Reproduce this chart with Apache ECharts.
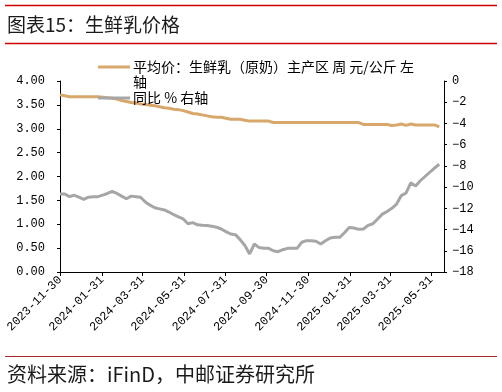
<!DOCTYPE html>
<html>
<head>
<meta charset="utf-8">
<script src="https://cdn.jsdelivr.net/npm/echarts@6/dist/echarts.min.js"></script>
<style>html,body{margin:0;padding:0;background:#fff;}#c{width:502px;height:392px;}</style>
</head>
<body>
<div id="c"></div>
<script>
var dates = [
'2023-11-30','2023-12-07','2023-12-14','2023-12-21','2023-12-28',
'2024-01-04','2024-01-11','2024-01-18','2024-01-25',
'2024-02-01','2024-02-08','2024-02-15','2024-02-22','2024-02-29',
'2024-03-07','2024-03-14','2024-03-21','2024-03-28',
'2024-04-04','2024-04-11','2024-04-18','2024-04-25',
'2024-05-02','2024-05-09','2024-05-16','2024-05-23','2024-05-30',
'2024-06-06','2024-06-13','2024-06-20','2024-06-27',
'2024-07-04','2024-07-11','2024-07-18','2024-07-25',
'2024-08-01','2024-08-08','2024-08-15','2024-08-22','2024-08-29',
'2024-09-05','2024-09-12','2024-09-19','2024-09-26',
'2024-10-03','2024-10-10','2024-10-17','2024-10-24','2024-10-31',
'2024-11-07','2024-11-14','2024-11-21','2024-11-28',
'2024-12-05','2024-12-12','2024-12-19','2024-12-26',
'2025-01-02','2025-01-09','2025-01-16','2025-01-23','2025-01-30',
'2025-02-06','2025-02-13','2025-02-20','2025-02-27',
'2025-03-06','2025-03-13','2025-03-20','2025-03-27',
'2025-04-03','2025-04-10','2025-04-17','2025-04-24',
'2025-05-01','2025-05-08','2025-05-15','2025-05-22','2025-05-29',
'2025-06-05','2025-06-12'
];
var price = [
3.71,3.69,3.67,3.67,3.67,3.67,3.67,3.67,3.67,3.66,
3.65,3.64,3.62,3.59,3.57,3.55,3.54,3.52,3.51,3.49,
3.48,3.46,3.44,3.43,3.41,3.40,3.38,3.35,3.32,3.31,
3.29,3.27,3.25,3.24,3.24,3.22,3.20,3.20,3.20,3.18,
3.16,3.16,3.16,3.16,3.16,3.13,3.13,3.13,3.13,3.13,
3.13,3.13,3.13,3.13,3.13,3.13,3.13,3.13,3.13,3.13,
3.13,3.13,3.13,3.13,3.09,3.09,3.09,3.09,3.09,3.09,
3.07,3.08,3.10,3.07,3.10,3.08,3.08,3.08,3.08,3.08,
3.04
];
var yoy = [
-10.65,-10.65,-10.9,-10.77,-10.95,-11.15,-10.95,-10.9,-10.9,-10.75,
-10.6,-10.4,-10.6,-10.85,-11.1,-10.85,-10.9,-10.95,-11.4,-11.7,
-11.95,-12.05,-12.15,-12.35,-12.6,-12.8,-13.0,-13.45,-13.35,-13.55,
-13.6,-13.62,-13.68,-13.78,-13.95,-14.2,-14.42,-14.48,-14.95,-15.5,
-16.3,-15.36,-15.7,-15.77,-15.77,-16.0,-16.09,-15.9,-15.77,-15.77,
-15.77,-15.2,-15.05,-15.05,-15.1,-15.36,-15.05,-14.8,-14.73,-14.73,
-14.3,-13.8,-13.85,-13.98,-13.95,-13.6,-13.45,-13.0,-12.55,-12.3,
-12.0,-11.6,-10.8,-10.55,-9.6,-9.9,-9.4,-9.0,-8.6,-8.2,
-7.85
];
var tickDates = ['2023-11-30','2024-01-31','2024-03-31','2024-05-31','2024-07-31','2024-09-30','2024-11-30','2025-01-31','2025-03-31','2025-05-31'];
var axisStart = '2023-11-30';
var axisEnd = '2025-06-19';
var name1 = '平均价：生鲜乳（原奶）主产区 周 元/公斤 左轴';
var name2 = '同比 % 右轴';

function ts(s){var p=s.split('-');return Date.UTC(+p[0],+p[1]-1,+p[2]);}
function pad(n){return (n<10?'0':'')+n;}
function fmt(v){var d=new Date(v);return d.getUTCFullYear()+'-'+pad(d.getUTCMonth()+1)+'-'+pad(d.getUTCDate());}

var cjk = '"Noto Sans CJK SC", sans-serif';
var mono = '"Liberation Mono", "DejaVu Sans Mono", monospace';
var tickTs = tickDates.map(ts);
var chart = echarts.init(document.getElementById('c'), null, {renderer:'canvas'});
chart.setOption({
  animation:false,
  backgroundColor:'#fff',
  graphic:[
    {type:'line', shape:{x1:5,y1:5.5,x2:497,y2:5.5}, style:{stroke:'#d00000',lineWidth:1.5}},
    {type:'text', left:7, top:15, style:{text:'图表15：生鲜乳价格', font:'19px '+cjk, fill:'#1a1a1a'}},
    {type:'line', shape:{x1:5,y1:43.5,x2:497,y2:43.5}, style:{stroke:'#d00000',lineWidth:1.5}},
    {type:'line', shape:{x1:5,y1:356.5,x2:497,y2:356.5}, style:{stroke:'#a52a2a',lineWidth:1.2}},
    {type:'text', left:7, top:364, style:{text:'资料来源：iFinD，中邮证券研究所', font:'20px '+cjk, fill:'#1a1a1a'}},
    {type:'text', left:133, top:75, z:10, style:{text:'轴', font:'14px '+cjk, fill:'#000'}}
  ],
  legend:[
    {data:[name1], left:98, top:60, padding:0, icon:'rect', itemWidth:32, itemHeight:3, itemGap:0,
     formatter:function(n){return n.slice(0,-1);},
     textStyle:{fontSize:14, fontFamily:cjk, color:'#000', padding:[0,0,0,-2]}},
    {data:[name2], left:98, top:91, padding:0, icon:'rect', itemWidth:32, itemHeight:3,
     textStyle:{fontSize:14, fontFamily:cjk, color:'#000', padding:[0,0,0,-2]}}
  ],
  grid:{left:60, right:58, top:81, bottom:120, containLabel:false},
  xAxis:{
    type:'value', min:ts(axisStart), max:ts(axisEnd), scale:true,
    axisLine:{lineStyle:{color:'#000',width:1}},
    axisTick:{show:true, length:4, customValues:tickTs, lineStyle:{color:'#000'}},
    axisLabel:{customValues:tickTs, rotate:45, fontSize:12, fontFamily:mono, color:'#000', margin:6, formatter:function(v){return fmt(v);}},
    splitLine:{show:false}
  },
  yAxis:[
    {type:'value', min:0, max:4, interval:0.5, position:'left',
     axisLine:{show:true, lineStyle:{color:'#000'}},
     axisTick:{show:true, length:3, lineStyle:{color:'#000'}},
     axisLabel:{fontSize:12, fontFamily:mono, color:'#000', margin:15, formatter:function(v){return v.toFixed(2);}},
     splitLine:{show:false}},
    {type:'value', min:-18, max:0, interval:2, position:'right',
     axisLine:{show:true, lineStyle:{color:'#000'}},
     axisTick:{show:true, length:3, lineStyle:{color:'#000'}},
     axisLabel:{fontSize:12, fontFamily:mono, color:'#000', margin:8, formatter:function(v){return String(v).replace('-','−');}},
     splitLine:{show:false}}
  ],
  series:[
    {name:name1, type:'line', yAxisIndex:0, showSymbol:false, symbol:'none',
     data:dates.map(function(d,i){return [ts(d), price[i]];}),
     lineStyle:{color:'#D8A76B', width:3}, itemStyle:{color:'#D8A76B'}},
    {name:name2, type:'line', yAxisIndex:1, showSymbol:false, symbol:'none',
     data:dates.map(function(d,i){return [ts(d), yoy[i]];}),
     lineStyle:{color:'#A6A6A6', width:3}, itemStyle:{color:'#A6A6A6'}}
  ]
});
</script>
</body>
</html>
